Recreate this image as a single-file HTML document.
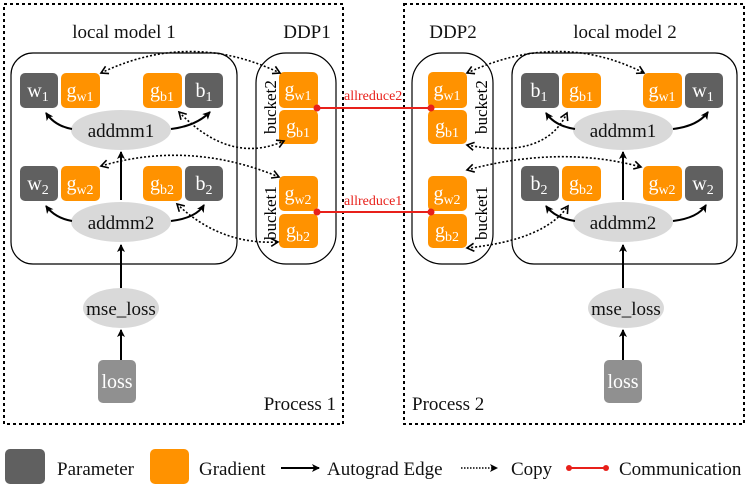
<!DOCTYPE html>
<html><head><meta charset="utf-8"><style>
body{margin:0;background:#fff}
svg{display:block}
text{font-family:"Liberation Serif","Times New Roman",serif}
.g{fill:#ff9200}.p{fill:#606060}
.bt{fill:#fff;font-size:20px;text-anchor:middle}
.bt tspan.s{font-size:14px}
.lbl{font-size:19px;fill:#111}
.ar{stroke:#000;stroke-width:2;fill:none}
.dt{stroke:#000;stroke-width:1.6;fill:none;stroke-dasharray:2,2}
</style></head><body>
<svg width="748" height="489" viewBox="0 0 748 489">
<defs>
<marker id="ah" markerWidth="8" markerHeight="8" refX="7" refY="4" orient="auto" markerUnits="userSpaceOnUse"><path d="M0,0 L8,4 L0,8 L2,4z" fill="#000"/></marker>
<marker id="oa" markerWidth="10" markerHeight="10" refX="8" refY="5" orient="auto" markerUnits="userSpaceOnUse"><path d="M1,1 L8,5 L1,9" fill="none" stroke="#000" stroke-width="1.6"/></marker>
<marker id="os" markerWidth="10" markerHeight="10" refX="2" refY="5" orient="auto" markerUnits="userSpaceOnUse"><path d="M9,1 L2,5 L9,9" fill="none" stroke="#000" stroke-width="1.6"/></marker>
</defs>
<rect x="4" y="4" width="339" height="420" fill="none" stroke="#000" stroke-width="2" stroke-dasharray="3,3"/>
<rect x="404" y="4" width="340" height="420" fill="none" stroke="#000" stroke-width="2" stroke-dasharray="3,3"/>
<text class="lbl" x="124" y="38" text-anchor="middle">local model 1</text>
<text class="lbl" x="307" y="38" text-anchor="middle">DDP1</text>
<text class="lbl" x="453" y="38" text-anchor="middle">DDP2</text>
<text class="lbl" x="625" y="38" text-anchor="middle">local model 2</text>
<rect x="11" y="53" width="226" height="211" rx="22" fill="none" stroke="#000" stroke-width="1.2"/>
<rect x="256" y="53" width="80" height="211" rx="30" fill="none" stroke="#000" stroke-width="1.2"/>
<rect x="412" y="53" width="81" height="211" rx="30" fill="none" stroke="#000" stroke-width="1.2"/>
<rect x="512" y="53" width="225" height="211" rx="22" fill="none" stroke="#000" stroke-width="1.2"/>

<rect class="p" x="20" y="73" width="38" height="35" rx="5"/><text class="bt" x="38" y="97">w<tspan class="s" dy="4">1</tspan></text>
<rect class="g" x="61" y="73" width="39" height="35" rx="5"/><text class="bt" x="80" y="97">g<tspan class="s" dy="4">w1</tspan></text>
<rect class="g" x="143" y="73" width="39" height="35" rx="5"/><text class="bt" x="162" y="97">g<tspan class="s" dy="4">b1</tspan></text>
<rect class="p" x="185" y="73" width="38" height="35" rx="5"/><text class="bt" x="204" y="97">b<tspan class="s" dy="4">1</tspan></text>
<rect class="p" x="20" y="166" width="38" height="35" rx="5"/><text class="bt" x="38" y="190">w<tspan class="s" dy="4">2</tspan></text>
<rect class="g" x="61" y="166" width="39" height="35" rx="5"/><text class="bt" x="80" y="190">g<tspan class="s" dy="4">w2</tspan></text>
<rect class="g" x="143" y="166" width="39" height="35" rx="5"/><text class="bt" x="162" y="190">g<tspan class="s" dy="4">b2</tspan></text>
<rect class="p" x="185" y="166" width="38" height="35" rx="5"/><text class="bt" x="204" y="190">b<tspan class="s" dy="4">2</tspan></text>
<ellipse cx="121" cy="130" rx="50" ry="20" fill="#d9d9d9"/><text class="lbl" x="121" y="137" text-anchor="middle">addmm1</text>
<ellipse cx="121" cy="222" rx="50" ry="20" fill="#d9d9d9"/><text class="lbl" x="121" y="229" text-anchor="middle">addmm2</text>
<ellipse cx="121" cy="308" rx="38" ry="20" fill="#d9d9d9"/><text class="lbl" x="121" y="315" text-anchor="middle" font-size="18">mse_loss</text>
<rect x="98" y="360" width="38" height="43" rx="5" fill="#909090"/><text class="bt" x="117" y="388" font-size="18">loss</text>

<rect class="g" x="279" y="72" width="39" height="36" rx="5"/><text class="bt" x="298" y="96">g<tspan class="s" dy="4">w1</tspan></text>
<rect class="g" x="279" y="110" width="39" height="34" rx="5"/><text class="bt" x="298" y="133">g<tspan class="s" dy="4">b1</tspan></text>
<rect class="g" x="279" y="176" width="39" height="35" rx="5"/><text class="bt" x="298" y="200">g<tspan class="s" dy="4">w2</tspan></text>
<rect class="g" x="279" y="214" width="39" height="34" rx="5"/><text class="bt" x="298" y="237">g<tspan class="s" dy="4">b2</tspan></text>
<text font-size="17" transform="translate(276,134) rotate(-90)">bucket2</text>
<text font-size="17" transform="translate(276,240) rotate(-90)">bucket1</text>

<rect class="g" x="428" y="72" width="39" height="36" rx="5"/><text class="bt" x="447" y="96">g<tspan class="s" dy="4">w1</tspan></text>
<rect class="g" x="428" y="110" width="39" height="34" rx="5"/><text class="bt" x="447" y="133">g<tspan class="s" dy="4">b1</tspan></text>
<rect class="g" x="428" y="176" width="39" height="35" rx="5"/><text class="bt" x="447" y="200">g<tspan class="s" dy="4">w2</tspan></text>
<rect class="g" x="428" y="214" width="39" height="34" rx="5"/><text class="bt" x="447" y="237">g<tspan class="s" dy="4">b2</tspan></text>
<text font-size="17" transform="translate(487,134) rotate(-90)">bucket2</text>
<text font-size="17" transform="translate(487,240) rotate(-90)">bucket1</text>

<rect class="p" x="521" y="73" width="38" height="35" rx="5"/><text class="bt" x="539" y="97">b<tspan class="s" dy="4">1</tspan></text>
<rect class="g" x="562" y="73" width="39" height="35" rx="5"/><text class="bt" x="581" y="97">g<tspan class="s" dy="4">b1</tspan></text>
<rect class="g" x="643" y="73" width="39" height="35" rx="5"/><text class="bt" x="662" y="97">g<tspan class="s" dy="4">w1</tspan></text>
<rect class="p" x="685" y="73" width="38" height="35" rx="5"/><text class="bt" x="703" y="97">w<tspan class="s" dy="4">1</tspan></text>
<rect class="p" x="521" y="166" width="38" height="35" rx="5"/><text class="bt" x="539" y="190">b<tspan class="s" dy="4">2</tspan></text>
<rect class="g" x="562" y="166" width="39" height="35" rx="5"/><text class="bt" x="581" y="190">g<tspan class="s" dy="4">b2</tspan></text>
<rect class="g" x="643" y="166" width="39" height="35" rx="5"/><text class="bt" x="662" y="190">g<tspan class="s" dy="4">w2</tspan></text>
<rect class="p" x="685" y="166" width="38" height="35" rx="5"/><text class="bt" x="703" y="190">w<tspan class="s" dy="4">2</tspan></text>
<ellipse cx="623" cy="130" rx="50" ry="20" fill="#d9d9d9"/><text class="lbl" x="623" y="137" text-anchor="middle">addmm1</text>
<ellipse cx="623" cy="222" rx="50" ry="20" fill="#d9d9d9"/><text class="lbl" x="623" y="229" text-anchor="middle">addmm2</text>
<ellipse cx="626" cy="308" rx="38" ry="20" fill="#d9d9d9"/><text class="lbl" x="626" y="315" text-anchor="middle" font-size="18">mse_loss</text>
<rect x="604" y="360" width="38" height="43" rx="5" fill="#909090"/><text class="bt" x="623" y="388" font-size="18">loss</text>

<path class="ar" d="M72,129 Q55,126 46,113" marker-end="url(#ah)"/>
<path class="ar" d="M171,129 Q196,126 210,112" marker-end="url(#ah)"/>
<path class="ar" d="M72,221 Q55,218 46,206" marker-end="url(#ah)"/>
<path class="ar" d="M171,221 Q196,218 204,205" marker-end="url(#ah)"/>
<path class="ar" d="M121,200 L121,152" marker-end="url(#ah)"/>
<path class="ar" d="M121,288 L121,245" marker-end="url(#ah)"/>
<path class="ar" d="M121,360 L121,330" marker-end="url(#ah)"/>
<path class="ar" d="M575,129 Q555,126 546,113" marker-end="url(#ah)"/>
<path class="ar" d="M673,129 Q698,126 708,112" marker-end="url(#ah)"/>
<path class="ar" d="M575,221 Q555,218 546,206" marker-end="url(#ah)"/>
<path class="ar" d="M673,221 Q698,218 706,205" marker-end="url(#ah)"/>
<path class="ar" d="M623,200 L623,152" marker-end="url(#ah)"/>
<path class="ar" d="M623,288 L623,245" marker-end="url(#ah)"/>
<path class="ar" d="M623,360 L623,330" marker-end="url(#ah)"/>

<path class="dt" d="M101,73 Q190,30 280,73" marker-start="url(#os)" marker-end="url(#oa)"/>
<path class="dt" d="M179,112 Q230,165 284,141" marker-start="url(#os)" marker-end="url(#oa)"/>
<path class="dt" d="M101,166 Q190,140 279,177" marker-start="url(#os)" marker-end="url(#oa)"/>
<path class="dt" d="M177,204 Q220,245 278,242" marker-start="url(#os)" marker-end="url(#oa)"/>
<path class="dt" d="M467,73 Q560,30 644,73" marker-start="url(#os)" marker-end="url(#oa)"/>
<path class="dt" d="M467,145 Q545,160 567,113" marker-start="url(#os)" marker-end="url(#oa)"/>
<path class="dt" d="M467,170 Q560,145 641,167" marker-start="url(#os)" marker-end="url(#oa)"/>
<path class="dt" d="M467,248 Q545,240 568,206" marker-start="url(#os)" marker-end="url(#oa)"/>

<line x1="317" y1="108" x2="431" y2="108" stroke="#e8201a" stroke-width="2"/>
<circle cx="317" cy="108" r="3.5" fill="#e8201a"/><circle cx="431" cy="108" r="3.5" fill="#e8201a"/>
<text x="344" y="100" font-size="14" fill="#e8201a">allreduce2</text>
<line x1="317" y1="212" x2="431" y2="212" stroke="#e8201a" stroke-width="2"/>
<circle cx="317" cy="212" r="3.5" fill="#e8201a"/><circle cx="431" cy="212" r="3.5" fill="#e8201a"/>
<text x="344" y="205" font-size="14" fill="#e8201a">allreduce1</text>

<text class="lbl" x="336" y="410" text-anchor="end">Process 1</text>
<text class="lbl" x="412" y="410">Process 2</text>

<rect x="5" y="449" width="40" height="35" rx="5" fill="#606060"/>
<text class="lbl" x="57" y="475">Parameter</text>
<rect x="150" y="449" width="39" height="35" rx="5" fill="#ff9200"/>
<text class="lbl" x="199" y="475">Gradient</text>
<path class="ar" d="M281,468 L319,468" marker-end="url(#ah)"/>
<text class="lbl" x="327" y="475">Autograd Edge</text>
<path d="M461,468 L497,468" stroke="#000" stroke-width="1.4" stroke-dasharray="1.5,1.5" marker-end="url(#ah)"/>
<text class="lbl" x="511" y="475">Copy</text>
<line x1="569" y1="468" x2="606" y2="468" stroke="#e8201a" stroke-width="2"/>
<circle cx="569" cy="468" r="3" fill="#e8201a"/><circle cx="606" cy="468" r="3" fill="#e8201a"/>
<text class="lbl" x="619" y="475">Communication</text>
</svg>
</body></html>
